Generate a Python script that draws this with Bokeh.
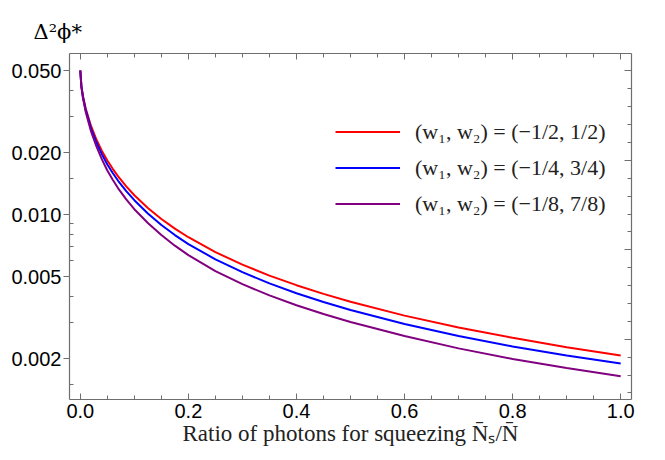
import math
from bokeh.plotting import figure
from bokeh.models import (LogAxis, LinearAxis, FixedTicker, Legend, LegendItem,
                          Range1d, CustomJSTickFormatter)
from bokeh.embed import file_html
from bokeh.resources import INLINE

# ---- data ----
x_ratio = [0.0, 0.002, 0.005, 0.01, 0.02, 0.03, 0.04, 0.05, 0.06, 0.07, 0.085,
           0.1, 0.125, 0.15, 0.175, 0.2, 0.25, 0.3, 0.35, 0.4, 0.45, 0.5,
           0.6, 0.7, 0.8, 0.9, 1.0]
var_red = [0.0500, 0.04211, 0.03752, 0.03271, 0.02683, 0.02307, 0.02037,
           0.01831, 0.01667, 0.01533, 0.01370, 0.01241, 0.01076, 0.00951,
           0.00854, 0.00776, 0.00657, 0.00571, 0.00505, 0.00454, 0.00412,
           0.00377, 0.00323, 0.00283, 0.00252, 0.00227, 0.00207]
var_blue = [0.0500, 0.04188, 0.03710, 0.03217, 0.02609, 0.02231, 0.01959,
            0.01751, 0.01591, 0.01458, 0.01298, 0.01174, 0.01012, 0.00889,
            0.00795, 0.00719, 0.00606, 0.00525, 0.00463, 0.00415, 0.00376,
            0.00344, 0.00294, 0.00257, 0.00229, 0.00207, 0.00189]
var_purple = [0.0500, 0.04164, 0.03669, 0.03146, 0.02523, 0.02134, 0.01852,
              0.01637, 0.01474, 0.01341, 0.01185, 0.01061, 0.00910, 0.00795,
              0.00706, 0.00635, 0.00531, 0.00459, 0.00405, 0.00363, 0.00329,
              0.00301, 0.00257, 0.00224, 0.00199, 0.00180, 0.00164]
series_labels = ["(w\u2081, w\u2082) = (\u22121/2, 1/2)",
                 "(w\u2081, w\u2082) = (\u22121/4, 3/4)",
                 "(w\u2081, w\u2082) = (\u22121/8, 7/8)"]
series_colors = ["#ff0000", "#0000ff", "#800080"]

y_tick_values = [0.002, 0.005, 0.01, 0.02, 0.05]
y_tick_labels = ["0.002", "0.005", "0.010", "0.020", "0.050"]
y_minor_ticks = [0.0015, 0.003, 0.004, 0.006, 0.007, 0.008, 0.009, 0.015,
                 0.03, 0.04]
x_tick_values = [0.0, 0.2, 0.4, 0.6, 0.8, 1.0]
x_tick_labels = ["0.0", "0.2", "0.4", "0.6", "0.8", "1.0"]
x_minor_ticks = [0.05, 0.1, 0.15, 0.25, 0.3, 0.35, 0.45, 0.5, 0.55, 0.65,
                 0.7, 0.75, 0.85, 0.9, 0.95]
# right frame: ticks every 0.2 in natural log, longer at integers
right_major = [math.exp(k) for k in (-6, -5, -4, -3)]
right_minor = [math.exp(k * 0.2) for k in range(-34, -13)]

x_title = "Ratio of photons for squeezing N\u0304\u209b/N\u0304"
y_title = "\u0394\u00b2\u03d5*"

FRAME = "#6e6e6e"

p = figure(width=665, height=460,
           x_range=Range1d(-0.02, 1.02), y_range=Range1d(0.001265, 0.0605),
           y_axis_type="log", x_axis_location=None, y_axis_location=None,
           output_backend="svg", toolbar_location=None,
           min_border_left=69, min_border_right=34,
           min_border_top=53, min_border_bottom=61)
p.outline_line_color = None
p.background_fill_color = "white"
for g in p.grid:
    g.visible = False

# y title shown above the frame
p.title.text = y_title
p.title.text_font = "DejaVu Serif"
p.title.text_font_style = "normal"
p.title.text_font_size = "21px"
p.title.text_color = "black"
p.title.align = "left"
p.title.vertical_align = "top"
p.title.offset = -36
p.title.standoff = 16

blank = CustomJSTickFormatter(code="return ''")


def style(ax, labels=True):
    ax.axis_line_color = FRAME
    ax.axis_line_width = 1.2
    ax.major_tick_line_color = FRAME
    ax.minor_tick_line_color = FRAME
    ax.major_tick_line_width = 1
    ax.minor_tick_line_width = 1
    if labels:
        ax.major_label_text_font = "Liberation Sans"
        ax.major_label_text_font_size = "20px"
        ax.major_label_text_color = "black"
    else:
        ax.formatter = blank
        ax.major_label_standoff = 0


left = LogAxis(ticker=FixedTicker(ticks=y_tick_values, minor_ticks=y_minor_ticks),
               major_label_overrides=dict(zip(y_tick_values, y_tick_labels)))
style(left)
left.major_tick_in = 0
left.major_tick_out = 6
left.minor_tick_in = 4
left.minor_tick_out = 0
left.major_label_standoff = 2
p.add_layout(left, "left")

bottom = LinearAxis(ticker=FixedTicker(ticks=x_tick_values, minor_ticks=x_minor_ticks),
                    major_label_overrides=dict(zip(x_tick_values, x_tick_labels)))
style(bottom)
bottom.major_tick_in = 6
bottom.major_tick_out = 0
bottom.minor_tick_in = 4
bottom.minor_tick_out = 0
bottom.major_label_standoff = 4
bottom.axis_label = x_title
bottom.axis_label_text_font = "Liberation Serif"
bottom.axis_label_text_font_style = "normal"
bottom.axis_label_text_font_size = "23px"
bottom.axis_label_text_color = "#222222"
bottom.axis_label_standoff = 0
p.add_layout(bottom, "below")

top = LinearAxis(ticker=FixedTicker(ticks=x_tick_values, minor_ticks=x_minor_ticks))
style(top, labels=False)
top.major_tick_in = 6
top.major_tick_out = 0
top.minor_tick_in = 4
top.minor_tick_out = 0
p.add_layout(top, "above")

right = LogAxis(ticker=FixedTicker(ticks=right_major, minor_ticks=right_minor))
style(right, labels=False)
right.major_tick_in = 7
right.major_tick_out = 0
right.minor_tick_in = 4
right.minor_tick_out = 0
p.add_layout(right, "right")

renderers = []
for ys, col in zip([var_red, var_blue, var_purple], series_colors):
    r = p.line(x_ratio, ys, line_color=col, line_width=2)
    renderers.append(r)

legend = Legend(items=[LegendItem(label=lab, renderers=[r])
                       for lab, r in zip(series_labels, renderers)],
                location=(266, 179), padding=0, margin=0, spacing=3,
                glyph_width=65, glyph_height=33, label_height=33,
                label_standoff=15, border_line_color=None,
                background_fill_alpha=0)
legend.label_text_font = "Liberation Serif"
legend.label_text_font_size = "22px"
legend.label_text_color = "#222222"
p.add_layout(legend)

open("out.html", "w").write(file_html(p, INLINE))
